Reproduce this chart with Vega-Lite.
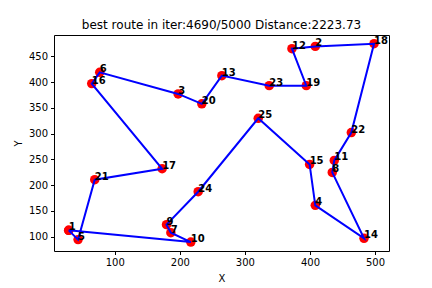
{
  "$schema": "https://vega.github.io/schema/vega-lite/v6.json",
  "width": 335,
  "height": 216,
  "autosize": {"type": "none"},
  "padding": {"left": 54, "top": 35, "right": 43, "bottom": 37},
  "background": "white",
  "title": {"text": "best route in iter:4690/5000 Distance:2223.73", "font": "DejaVu Sans", "fontSize": 12, "fontWeight": "normal", "color": "black", "offset": 3, "anchor": "middle"},
  "config": {
    "view": {"stroke": "black", "strokeWidth": 1},
    "axis": {"grid": false, "domain": false, "tickColor": "black", "tickSize": 3.5, "labelFont": "DejaVu Sans", "labelFontSize": 10, "labelColor": "black", "titleFont": "DejaVu Sans", "titleFontSize": 10, "titleFontWeight": "normal", "titleColor": "black", "labelPadding": 3}
  },
  "data": {"values": [
    {"order": 1, "city": "1", "x": 29.2, "y": 112.2},
    {"order": 2, "city": "5", "x": 43.6, "y": 94.2},
    {"order": 3, "city": "21", "x": 69.2, "y": 210.5},
    {"order": 4, "city": "17", "x": 172.8, "y": 231.8},
    {"order": 5, "city": "16", "x": 64.6, "y": 397.1},
    {"order": 6, "city": "6", "x": 76.9, "y": 419.0},
    {"order": 7, "city": "3", "x": 197.4, "y": 377.1},
    {"order": 8, "city": "20", "x": 233.8, "y": 357.8},
    {"order": 9, "city": "13", "x": 264.6, "y": 412.6},
    {"order": 10, "city": "23", "x": 337.4, "y": 393.2},
    {"order": 11, "city": "19", "x": 394.4, "y": 393.2},
    {"order": 12, "city": "12", "x": 372.3, "y": 464.9},
    {"order": 13, "city": "2", "x": 408.2, "y": 469.4},
    {"order": 14, "city": "18", "x": 498.5, "y": 474.6},
    {"order": 15, "city": "22", "x": 463.6, "y": 302.1},
    {"order": 16, "city": "11", "x": 437.4, "y": 247.9},
    {"order": 17, "city": "8", "x": 434.3, "y": 224.6},
    {"order": 18, "city": "14", "x": 483.1, "y": 96.7},
    {"order": 19, "city": "4", "x": 408.2, "y": 160.7},
    {"order": 20, "city": "15", "x": 399.5, "y": 240.1},
    {"order": 21, "city": "25", "x": 320.5, "y": 329.8},
    {"order": 22, "city": "24", "x": 228.2, "y": 187.2},
    {"order": 23, "city": "9", "x": 179.5, "y": 123.3},
    {"order": 24, "city": "7", "x": 186.2, "y": 107.7},
    {"order": 25, "city": "10", "x": 216.9, "y": 89.5},
    {"order": 26, "city": "", "x": 29.2, "y": 112.2}
  ]},
  "encoding": {
    "x": {"field": "x", "type": "quantitative", "scale": {"domain": [6.6, 521.5], "nice": false, "zero": false}, "axis": {"values": [100, 200, 300, 400, 500], "title": "X", "titlePadding": 6}},
    "y": {"field": "y", "type": "quantitative", "scale": {"domain": [72.1, 491.5], "nice": false, "zero": false}, "axis": {"values": [100, 150, 200, 250, 300, 350, 400, 450], "title": "Y", "titlePadding": 5}}
  },
  "layer": [
    {"mark": {"type": "point", "filled": true, "color": "red", "size": 90, "opacity": 1}},
    {"mark": {"type": "line", "color": "blue", "strokeWidth": 2}, "encoding": {"order": {"field": "order", "type": "quantitative"}}},
    {"mark": {"type": "text", "align": "left", "baseline": "alphabetic", "font": "DejaVu Sans", "fontSize": 10, "fontWeight": "bold", "color": "black"}, "encoding": {"text": {"field": "city"}}}
  ]
}
